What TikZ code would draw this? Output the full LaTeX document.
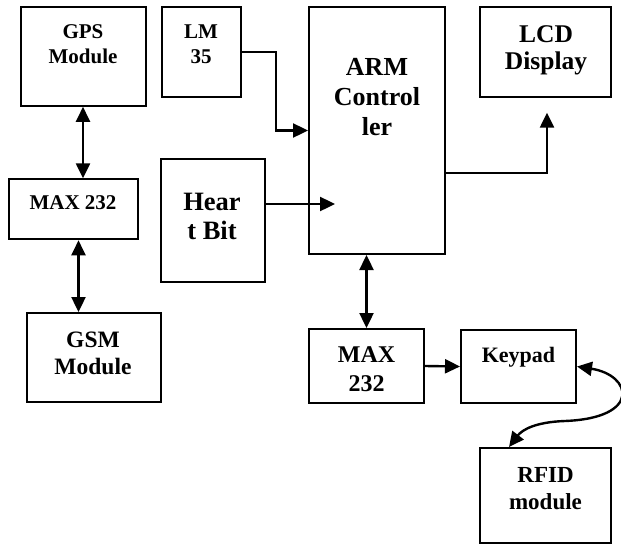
\documentclass[tikz,border=0pt]{standalone}
\usepackage{fontspec}
\setmainfont{Liberation Serif}
\usetikzlibrary{arrows.meta}

\begin{document}
\begin{tikzpicture}[x=1pt, y=-1pt, >={Triangle[length=15pt, width=14pt]},
  blk/.style={draw, line width=2pt, inner sep=0pt},
  lbl/.style={align=center, inner sep=0pt},
  link/.style={line width=2.4pt}]

\useasboundingbox (0,0) rectangle (621,544);

% --- left column ---
\node[blk, minimum width=125pt, minimum height=99pt] (gps) at (83,56.3) {};
\node[lbl, font={\fontsize{21}{24.5}\selectfont\bfseries}] (gps-t) at (83,44) {GPS\\Module};
\node[blk, minimum width=129pt, minimum height=60pt] (max1) at (73,209.3) {};
\node[lbl, font={\fontsize{21}{24}\selectfont\bfseries}] (max1-t) at (73,203) {MAX 232};
\node[blk, minimum width=134pt, minimum height=89pt] (gsm) at (94,357.5) {};
\node[lbl, font={\fontsize{23.5}{27}\selectfont\bfseries}] (gsm-t) at (93,353) {GSM\\Module};

% --- sensors ---
\node[blk, minimum width=79pt, minimum height=90pt] (lm35) at (201.3,51.8) {};
\node[lbl, font={\fontsize{21}{24.5}\selectfont\bfseries}] (lm35-t) at (201,44) {LM\\35};
\node[blk, minimum width=104pt, minimum height=123pt] (heart) at (212.8,220.5) {};
\node[lbl, font={\fontsize{26.5}{29}\selectfont\bfseries}] (heart-t) at (212,216.5) {Hear\\t Bit};

% --- controller and outputs ---
\node[blk, minimum width=136pt, minimum height=247pt] (arm) at (377,130.5) {};
\node[lbl, font={\fontsize{26}{30}\selectfont\bfseries}] (arm-t) at (377,97.4) {ARM\\Control\\ler};
\node[blk, minimum width=131pt, minimum height=90pt] (lcd) at (545.5,51.7) {};
\node[lbl, font={\fontsize{25.5}{27}\selectfont\bfseries}] (lcd-t) at (546,50.2) {LCD\\Display};
\node[blk, minimum width=115pt, minimum height=74pt] (max2) at (366.5,366) {};
\node[lbl, font={\fontsize{24}{28.4}\selectfont\bfseries}] (max2-t) at (366.5,369.2) {MAX\\232};
\node[blk, minimum width=115pt, minimum height=73pt] (keypad) at (518.5,366.5) {};
\node[lbl, font={\fontsize{22}{25}\selectfont\bfseries}] (keypad-t) at (518.5,357.5) {Keypad};
\node[blk, minimum width=131pt, minimum height=95pt] (rfid) at (545.5,495.5) {};
\node[lbl, font={\fontsize{23}{27}\selectfont\bfseries}] (rfid-t) at (545.5,488.8) {RFID\\module};

% free ends of connectors
\coordinate (m1s) at ([xshift=5.5pt]max1.south);
\coordinate (hb-in) at (335,204);
\coordinate (lcd-in) at ([xshift=1.5pt, yshift=-15pt]lcd.south);
\coordinate (rfid-in) at ([xshift=30pt]rfid.north west);

% --- connectors ---
\draw[link, <->] (gps.south) -- (gps.south |- max1.north);
\draw[link, <->] (m1s) -- (m1s |- gsm.north);
\draw[link, ->] (lm35.east) -- ++(34,0) |- (arm.west);
\draw[link, ->] (heart.east |- hb-in) -- (hb-in);
\draw[link, ->] ([yshift=-42.5pt]arm.east) -| (lcd-in);
\draw[link, <->] (max2.north |- arm.south) -- (max2.north);
\draw[link, ->] (max2.east) -- (keypad.west);
\draw[link, <->] (keypad.east) .. controls (632,375) and (642,418) .. (565,421)
  .. controls (535,422) and (522,430) .. (rfid-in);

\end{tikzpicture}
\end{document}
